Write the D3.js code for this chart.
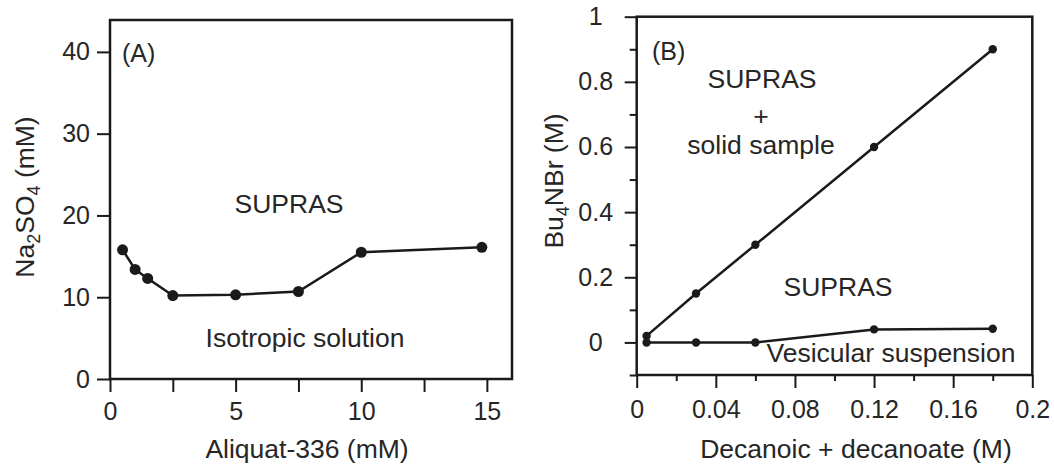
<!DOCTYPE html>
<html>
<head>
<meta charset="utf-8">
<script src="https://cdn.jsdelivr.net/npm/d3@7"></script>
<style>
body { margin: 0; background: #fff; }
text { font-family: "Liberation Sans", Arial, sans-serif; fill: #262626; }
</style>
</head>
<body>
<script>
// panel A data
const aliquat = [0.5, 1.0, 1.5, 2.5, 5, 7.5, 10, 14.8];
const na2so4 = [15.8, 13.4, 12.3, 10.2, 10.3, 10.7, 15.5, 16.1];
const ticksAX = [0, 5, 10, 15];
const minorAX = [2.5, 7.5, 12.5];
const ticksAY = [0, 10, 20, 30, 40];

// panel B data
const decanoic = [0.005, 0.03, 0.06, 0.12, 0.18];
const bu4nbrUpper = [0.02, 0.15, 0.30, 0.60, 0.90];
const bu4nbrLower = [0.0, 0.0, 0.0, 0.04, 0.042];
const ticksBX = [0, 0.04, 0.08, 0.12, 0.16, 0.2];
const tickLabelsBX = ["0", "0.04", "0.08", "0.12", "0.16", "0.2"];
const minorBX = [0.02, 0.06, 0.1, 0.14, 0.18];
const ticksBY = [0, 0.2, 0.4, 0.6, 0.8, 1];
const tickLabelsBY = ["0", "0.2", "0.4", "0.6", "0.8", "1"];
const minorBY = [-0.1, 0.1, 0.3, 0.5, 0.7, 0.9];

let svg = d3.select("body").append("svg").attr("width", 1054).attr("height", 464);

const ink = "#1a1a1a";
const fs = 25;    // tick labels
const fsT = 26.5; // annotations and titles

function styleAxis(g) {
    g.select(".domain").remove();
    g.selectAll("line").attr("stroke", ink).attr("stroke-width", 2);
    g.selectAll("text").attr("font-size", fs).attr("fill", "#262626")
        .attr("font-family", "Liberation Sans, Arial, sans-serif");
}

// ---------- panel A ----------
let xA = d3.scaleLinear().domain([0, 16]).range([110, 512]);
let yA = d3.scaleLinear().domain([0, 43.9]).range([379, 20]);

svg.append("g").attr("transform", "translate(0,379)")
    .call(d3.axisBottom(xA).tickValues(ticksAX).tickSize(13).tickPadding(10).tickSizeOuter(0))
    .call(styleAxis);
svg.append("g").attr("transform", "translate(0,379)")
    .call(d3.axisBottom(xA).tickValues(minorAX).tickSize(13).tickFormat("").tickSizeOuter(0))
    .call(styleAxis);
svg.append("g").attr("transform", "translate(110,0)")
    .call(d3.axisLeft(yA).tickValues(ticksAY).tickSize(13).tickPadding(7).tickSizeOuter(0))
    .call(styleAxis);

svg.append("rect").attr("x", 110).attr("y", 20).attr("width", 402).attr("height", 359)
    .attr("fill", "none").attr("stroke", ink).attr("stroke-width", 2.5);

let lineA = d3.line().x(d => xA(d[0])).y(d => yA(d[1]));
let ptsA = aliquat.map((v, i) => [v, na2so4[i]]);
svg.append("path").datum(ptsA).attr("d", lineA)
    .attr("fill", "none").attr("stroke", ink).attr("stroke-width", 2.5);
svg.selectAll(".ptA").data(ptsA).enter().append("circle")
    .attr("cx", d => xA(d[0])).attr("cy", d => yA(d[1])).attr("r", 5.5).attr("fill", ink);

svg.append("text").attr("x", 122).attr("y", 62).attr("font-size", fs).text("(A)");
svg.append("text").attr("x", 289).attr("y", 213).attr("text-anchor", "middle").attr("font-size", fsT).text("SUPRAS");
svg.append("text").attr("x", 305).attr("y", 347).attr("text-anchor", "middle").attr("font-size", fsT).text("Isotropic solution");
svg.append("text").attr("x", 307).attr("y", 458).attr("text-anchor", "middle").attr("font-size", fsT).text("Aliquat-336 (mM)");

let tA = svg.append("text").attr("transform", "translate(34,197) rotate(-90)")
    .attr("text-anchor", "middle").attr("font-size", fsT);
tA.append("tspan").text("Na");
tA.append("tspan").attr("font-size", 18).attr("dy", 6).text("2");
tA.append("tspan").attr("dy", -6).text("SO");
tA.append("tspan").attr("font-size", 18).attr("dy", 6).text("4");
tA.append("tspan").attr("dy", -6).text(" (mM)");

// ---------- panel B ----------
let xB = d3.scaleLinear().domain([0, 0.2]).range([636.7, 1032.3]);
let yB = d3.scaleLinear().domain([-0.1, 1]).range([375, 16.7]);

svg.append("g").attr("transform", "translate(0,375)")
    .call(d3.axisBottom(xB).tickValues(ticksBX).tickSize(13).tickPadding(12).tickSizeOuter(0)
        .tickFormat((d, i) => tickLabelsBX[i]))
    .call(styleAxis);
svg.append("g").attr("transform", "translate(0,375)")
    .call(d3.axisBottom(xB).tickValues(minorBX).tickSize(6).tickFormat("").tickSizeOuter(0))
    .call(styleAxis);
let gBY = svg.append("g").attr("transform", "translate(636.7,0)")
    .call(d3.axisLeft(yB).tickValues(ticksBY).tickSize(12).tickSizeOuter(0)
        .tickFormat((d, i) => tickLabelsBY[i]))
    .call(styleAxis);
gBY.selectAll("text").attr("text-anchor", "middle").attr("x", -41);
svg.append("g").attr("transform", "translate(636.7,0)")
    .call(d3.axisLeft(yB).tickValues(minorBY).tickSize(7).tickFormat("").tickSizeOuter(0))
    .call(styleAxis);

svg.append("rect").attr("x", 636.7).attr("y", 16.7).attr("width", 395.6).attr("height", 358.3)
    .attr("fill", "none").attr("stroke", ink).attr("stroke-width", 2.5);

let lineB = d3.line().x(d => xB(d[0])).y(d => yB(d[1]));
[bu4nbrUpper, bu4nbrLower].forEach(function(series) {
    let pts = decanoic.map((v, i) => [v, series[i]]);
    svg.append("path").datum(pts).attr("d", lineB)
        .attr("fill", "none").attr("stroke", ink).attr("stroke-width", 2.5);
    svg.append("g").selectAll("circle").data(pts).enter().append("circle")
        .attr("cx", d => xB(d[0])).attr("cy", d => yB(d[1])).attr("r", 4.2).attr("fill", ink);
});

svg.append("text").attr("x", 652).attr("y", 60).attr("font-size", fs).text("(B)");
svg.append("text").attr("x", 762).attr("y", 88).attr("text-anchor", "middle").attr("font-size", fsT).text("SUPRAS");
svg.append("text").attr("x", 761).attr("y", 125).attr("text-anchor", "middle").attr("font-size", fsT).text("+");
svg.append("text").attr("x", 761).attr("y", 154).attr("text-anchor", "middle").attr("font-size", fsT).text("solid sample");
svg.append("text").attr("x", 838).attr("y", 296).attr("text-anchor", "middle").attr("font-size", fsT).text("SUPRAS");
svg.append("text").attr("x", 891).attr("y", 362).attr("text-anchor", "middle").attr("font-size", fsT).text("Vesicular suspension");
svg.append("text").attr("x", 856).attr("y", 458).attr("text-anchor", "middle").attr("font-size", fsT).text("Decanoic + decanoate (M)");

let tB = svg.append("text").attr("transform", "translate(563,181) rotate(-90)")
    .attr("text-anchor", "middle").attr("font-size", fsT);
tB.append("tspan").text("Bu");
tB.append("tspan").attr("font-size", 18).attr("dy", 6).text("4");
tB.append("tspan").attr("dy", -6).text("NBr (M)");
</script>
</body>
</html>
